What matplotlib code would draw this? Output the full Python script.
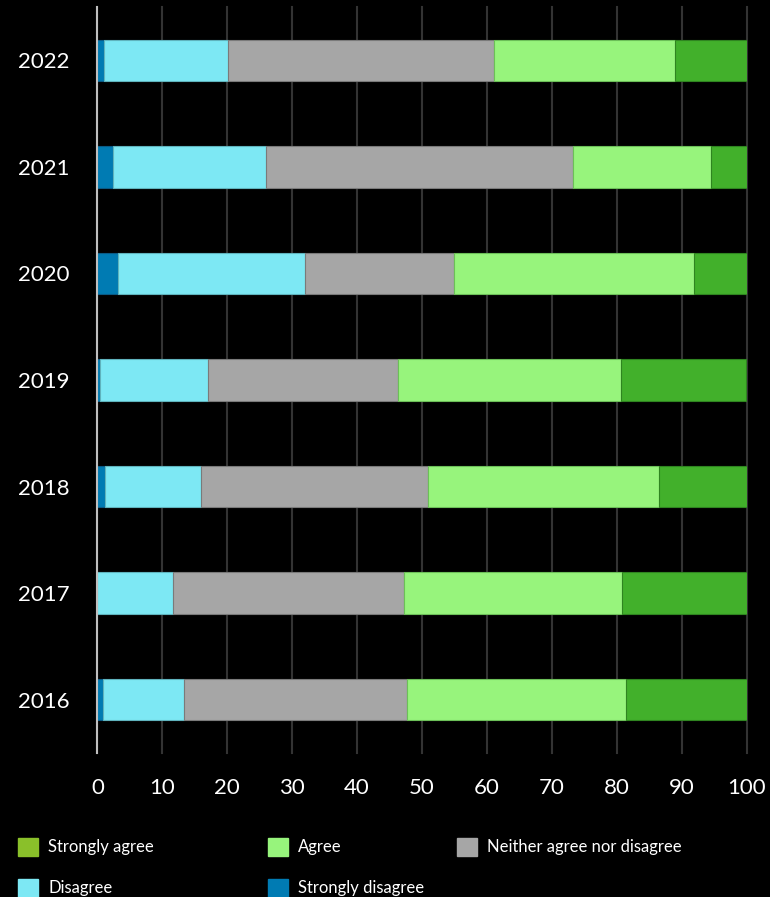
import matplotlib
matplotlib.use("Agg")
import matplotlib.pyplot as plt
from matplotlib.patches import Rectangle
import numpy as np

plt.rcParams['font.family'] = ['Lato', 'DejaVu Sans']

years = ["2016", "2017", "2018", "2019", "2020", "2021", "2022"]
strongly_disagree = [0.9, 0.0, 1.1, 0.4, 3.1, 2.4, 1.0]
disagree = [12.4, 11.6, 14.8, 16.6, 28.9, 23.5, 19.1]
neither = [34.4, 35.6, 35.0, 29.3, 23.0, 47.3, 41.0]
agree = [33.8, 33.6, 35.6, 34.4, 36.9, 21.3, 27.9]
strongly_agree = [18.5, 19.2, 13.5, 19.3, 8.1, 5.5, 11.0]

series = [
    ("Strongly disagree", strongly_disagree, "#007BB3", "#0a5a85"),
    ("Disagree", disagree, "#7DE8F4", "#5fb3bd"),
    ("Neither agree nor disagree", neither, "#A6A6A6", "#7a7a7a"),
    ("Agree", agree, "#97F47C", "#6cbf58"),
    ("Strongly agree", strongly_agree, "#42B02B", "#2f8420"),
]

fig = plt.figure(figsize=(7.7, 8.97), dpi=100, facecolor="black")
ax = fig.add_axes([97.5 / 770, 1 - 753 / 897, 649 / 770, 746 / 897])
ax.set_facecolor("black")

y = np.arange(len(years))
left = np.zeros(len(years))
for name, vals, col, edge in series:
    ax.barh(y, vals, left=left, height=0.39, color=col, edgecolor=edge,
            linewidth=0.8, zorder=3)
    left += np.array(vals)

ax.set_xlim(0, 100)
ax.set_ylim(-0.5, len(years) - 0.5)
ax.set_yticks(y)
ax.set_yticklabels(years)
ax.set_xticks(np.arange(0, 101, 10))
ax.tick_params(axis="both", length=0, colors="white", labelsize=16)
ax.tick_params(axis="y", pad=20)
ax.tick_params(axis="x", pad=18)

ax.grid(axis="x", color="#333333", linewidth=1.5, zorder=0)
for gl in ax.get_xgridlines():
    gl.set_clip_on(False)
ax.set_axisbelow(True)
for s in ["top", "right", "bottom"]:
    ax.spines[s].set_visible(False)
ax.spines["left"].set_color("#BFBFBF")
ax.spines["left"].set_linewidth(1.5)
ax.spines["left"].set_zorder(4)

# legend laid out by hand in figure pixels
legend_items = [
    ("Strongly agree", "#8AC02A", 18, 847),
    ("Agree", "#97F47C", 268, 847),
    ("Neither agree nor disagree", "#A6A6A6", 457, 847),
    ("Disagree", "#7DE8F4", 18, 888),
    ("Strongly disagree", "#007BB3", 268, 888),
]
W, H = 770, 897
for label, col, px, py in legend_items:
    fig.add_artist(Rectangle((px / W, 1 - (py + 9) / H), 20 / W, 18 / H,
                             transform=fig.transFigure, color=col))
    fig.text((px + 30) / W, 1 - py / H, label, color="white", fontsize=12,
             va="center", ha="left")

fig.savefig("out.png", dpi=100, facecolor="black")
